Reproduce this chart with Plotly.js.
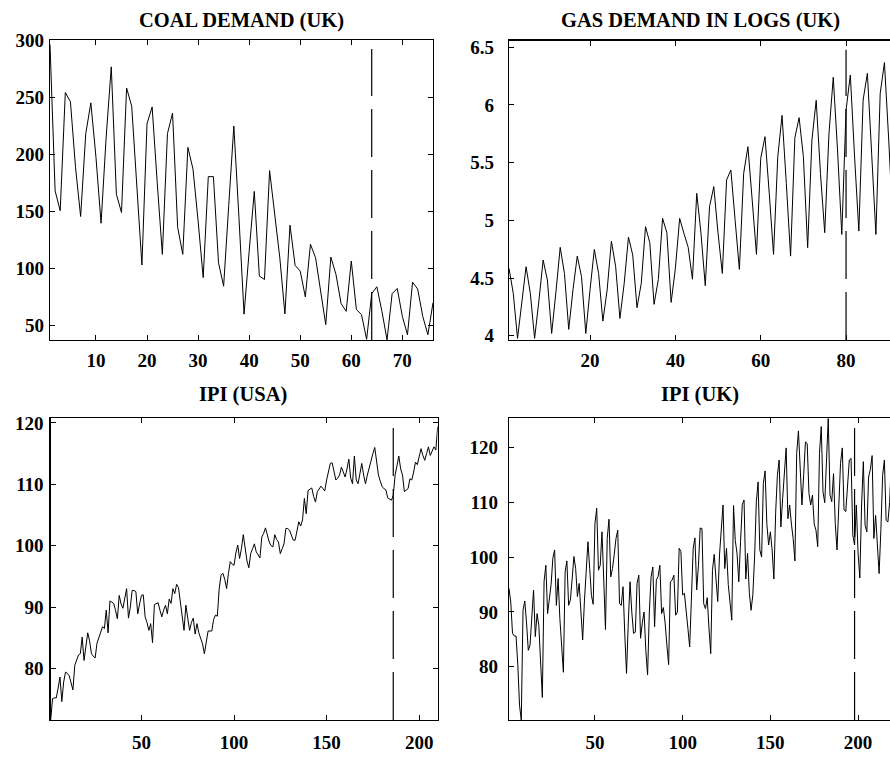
<!DOCTYPE html>
<html>
<head>
<meta charset="utf-8">
<script src="https://cdn.plot.ly/plotly-3.0.1.min.js"></script>
<style>html,body{margin:0;padding:0;background:#fff;}#chart{width:890px;height:757px;}</style>
</head>
<body>
<div id="chart"></div>
<script>
// ---- data ----
const titles = ["COAL DEMAND (UK)", "GAS DEMAND IN LOGS (UK)", "IPI (USA)", "IPI (UK)"];

const coalY = [296,168,150.5,254,246,188.6,145.5,218,245,197.4,139.6,215,276.5,165,149,258,242,174,103,226.7,
241.4,175,112.4,218,236,136,112.4,206,187,141.7,92,180.4,180.4,105,84.5,155,224.7,144.6,60,115,
167.5,93.3,90.4,185.7,147.6,109.4,60.2,137.9,102.7,97.7,75.1,121.2,109.4,80,50.8,110,94.8,69.3,62.5,106.5,
64,59.6,38,78,84,62.5,37.5,78,82.5,58,42,88,82,58,42,70];

const gasY = [4.584,4.367,3.977,4.3,4.598,4.367,3.977,4.3,4.656,4.483,4.02,4.38,4.766,4.54,4.055,4.4,4.69,4.512,4.02,4.4,
4.748,4.54,4.127,4.396,4.82,4.598,4.15,4.454,4.855,4.7,4.243,4.454,4.945,4.806,4.272,4.488,5.017,4.893,4.289,4.584,
5.017,4.887,4.766,4.49,5.234,4.887,4.434,5.118,5.292,4.887,4.54,5.35,5.436,5.0,4.575,5.407,5.638,5.176,4.705,5.537,
5.725,5.234,4.705,5.552,5.91,5.32,4.69,5.716,5.89,5.552,4.763,5.696,6.04,5.407,4.893,5.754,6.24,5.61,4.878,5.956,
6.26,5.55,4.907,6.043,6.274,5.58,4.878,6.1,6.367,5.696,4.95];

const ipiUsaY = [71.6,75.1,75.2,75.2,76.8,78.6,74.6,77.8,79.4,79.2,78.8,77.5,76.5,80.5,81.5,82.2,82.4,85.1,81.3,83.5,
85.8,84.5,82.4,82.0,81.7,84.1,85.0,86.0,86.8,86.5,89.5,85.8,91.0,90.8,90.6,89.5,88.1,91.9,90.5,89.8,
91.8,93.0,88.2,90.0,92.7,92.7,92.5,88.9,90.5,91.9,92.0,88.4,87.5,86.2,87.3,84.2,90.4,90.6,90.7,89.5,
88.4,89.5,90.3,88.9,91.3,90.6,93.0,92.2,93.7,93.2,91.0,88.5,86.2,90.3,88.0,86.2,87.5,88.2,85.6,87.3,
85.8,85.0,84.0,82.4,84.5,86.1,86.1,86.1,88.0,88.7,88.5,93.0,95.2,95.5,94.5,93.0,95.5,97.4,97.0,96.8,
98.8,100.1,97.9,99.5,101.8,99.5,97.5,96.4,98.7,99.5,100.3,99.0,98.4,98.0,101.4,102.0,102.9,101.5,100.6,100.0,
99.8,101.8,101.0,100.6,98.7,99.5,100.3,102.8,102.8,102.5,101.5,100.9,100.9,102.5,103.9,103.2,104.2,107.7,105.2,109.0,
109.2,109.4,108.0,107.1,108.8,109.3,109.7,109.3,108.9,110.7,112.0,113.4,113.5,112.0,110.7,111.0,111.5,112.8,112.0,111.2,
112.5,114.1,111.0,110.1,114.6,110.7,110.1,112.0,113.4,111.5,110.1,111.5,112.8,114.2,115.0,116.0,114.0,111.5,110.5,109.6,
109.3,109.1,107.8,107.6,107.4,108.2,111.5,113.0,114.6,112.5,111.5,108.8,109.0,109.3,110.9,110.7,112.0,113.6,113.2,114.5,
115.8,114.7,113.9,115.0,116.1,114.7,115.5,116.1,115.6,119.4];

const ipiUkY = [94.3,91.8,86.1,85.6,85.6,80.5,73.0,70.3,90.3,92.0,88.0,83.0,84.0,89.0,94.0,85.5,89.7,87.5,80.0,74.4,
95.6,98.5,89.7,91.9,95.0,99.8,101.3,91.2,96.1,88.8,84.0,79.0,97.3,99.3,91.2,92.2,96.0,100.1,97.9,92.8,
95.2,90.0,84.9,92.0,98.5,102.8,97.9,93.0,91.4,106.1,108.9,97.6,98.5,104.6,96.0,86.8,103.4,106.9,96.4,97.9,
100.5,103.4,104.9,91.6,91.2,94.6,86.0,78.8,88.0,95.5,90.0,86.1,86.3,95.2,96.7,85.2,88.0,90.0,83.0,78.5,
90.0,96.4,98.2,87.3,95.8,96.5,98.5,89.7,90.8,88.0,84.0,80.4,95.5,95.8,96.7,89.4,90.0,101.6,101.0,93.1,
93.4,90.6,87.0,83.6,95.0,101.6,103.5,94.0,98.5,105.3,105.2,91.5,90.6,92.6,87.0,82.4,97.6,100.5,96.0,91.9,
100.4,104.5,109.5,97.9,101.6,95.0,90.9,88.5,109.4,103.0,100.7,95.5,102.8,109.6,110.4,96.0,100.7,93.5,90.3,93.1,
100.0,110.1,113.7,101.3,100.0,113.4,115.7,106.0,102.2,104.6,101.3,96.0,108.0,114.9,117.7,105.5,110.7,115.9,119.9,107.0,
109.5,106.0,103.4,99.3,118.9,123.0,116.0,109.5,115.0,121.0,120.7,111.6,109.5,111.3,106.0,104.9,101.9,118.9,123.8,111.9,
109.9,119.2,125.3,111.3,110.1,115.2,106.1,101.3,110.0,117.1,119.9,108.6,108.3,113.0,117.7,118.0,104.0,102.2,109.5,100.7,
96.2,109.5,117.4,105.8,104.6,114.6,116.0,118.5,103.4,107.6,101.6,97.0,105.0,114.9,117.7,106.7,106.4,110.0,117.7];

// break (dashed line) positions
const breakX = [64, 80, 186, 198];

// tick values
const coalXTicks = [10,20,30,40,50,60,70];
const coalYTicks = [50,100,150,200,250,300];
const gasXTicks = [20,40,60,80];
const gasYTicks = [4,4.5,5,5.5,6,6.5];
const ipiXTicks = [50,100,150,200];
const ipiYTicks = [80,90,100,110,120];

// ---- build ----
const idx = arr => arr.map((_, i) => i + 1);
const series = [coalY, gasY, ipiUsaY, ipiUkY];
const traces = series.map((y, k) => ({
  x: idx(y), y: y, type: 'scatter', mode: 'lines',
  line: {color: '#000', width: 1},
  xaxis: k === 0 ? 'x' : 'x' + (k + 1),
  yaxis: k === 0 ? 'y' : 'y' + (k + 1),
  hoverinfo: 'skip', showlegend: false
}));

const W = 890, H = 757;
const font = {family: 'Liberation Serif, Times New Roman, serif', size: 19, color: '#000', weight: 'bold'};
function ax(domain, range, tickvals, mirror, standoff) {
  return {
    domain: domain, range: range, tickvals: tickvals, autorange: false,
    showline: true, linecolor: '#000', linewidth: 1.3, mirror: mirror,
    ticks: 'inside', ticklen: 5, tickwidth: 1, tickcolor: '#000',
    showgrid: false, zeroline: false, tickfont: font, fixedrange: true,
    ticklabelstandoff: standoff
  };
}
const xd = (a, b) => [a / W, Math.min(1, b / W)];
const yd = (top, bot) => [1 - bot / H, 1 - top / H];

const layout = {
  width: W, height: H,
  margin: {l: 0, r: 0, t: 0, b: 0},
  paper_bgcolor: '#fff', plot_bgcolor: '#fff',
  showlegend: false,
  xaxis:  Object.assign(ax(xd(50, 433), [1, 76], coalXTicks, 'ticks', 3), {anchor: 'y'}),
  yaxis:  Object.assign(ax(yd(40, 340), [37.4, 300], coalYTicks, 'ticks', 1), {anchor: 'x'}),
  xaxis2: Object.assign(ax(xd(509, 890), [1, 90.3], gasXTicks, 'ticks', 3), {anchor: 'y2'}),
  yaxis2: Object.assign(ax(yd(40.7, 340), [3.963, 6.557], gasYTicks, false, 10), {anchor: 'x2'}),
  xaxis3: Object.assign(ax(xd(50.7, 437.7), [1, 210], ipiXTicks, 'ticks', 5), {anchor: 'y3'}),
  yaxis3: Object.assign(ax(yd(418, 720), [71.6, 120.8], ipiYTicks, 'ticks', 2), {anchor: 'x3'}),
  xaxis4: Object.assign(ax(xd(509, 890), [1, 218.2], ipiXTicks, 'ticks', 5), {anchor: 'y4'}),
  yaxis4: Object.assign(ax(yd(418.3, 720), [70.3, 125.3], ipiYTicks, false, 6), {anchor: 'x4'}),
  shapes: breakX.map((bx, k) => ({
    type: 'line', xref: k === 0 ? 'x' : 'x' + (k + 1), yref: (k === 0 ? 'y' : 'y' + (k + 1)) + ' domain',
    x0: bx, x1: bx, y0: 0, y1: 0.97,
    line: {color: '#000', width: 1.2, dash: '48px,13px'}
  })),
  annotations: titles.map((t, k) => ({
    text: t, xref: 'paper', yref: 'paper', showarrow: false,
    x: [241, 700, 243, 700][k] / W, y: 1 - [20, 20, 394, 394][k] / H,
    xanchor: 'center', yanchor: 'middle',
    font: {family: font.family, size: 20.5, color: '#000', weight: 'bold'}
  }))
};

Plotly.newPlot('chart', traces, layout, {staticPlot: true, displayModeBar: false});
</script>
</body>
</html>
